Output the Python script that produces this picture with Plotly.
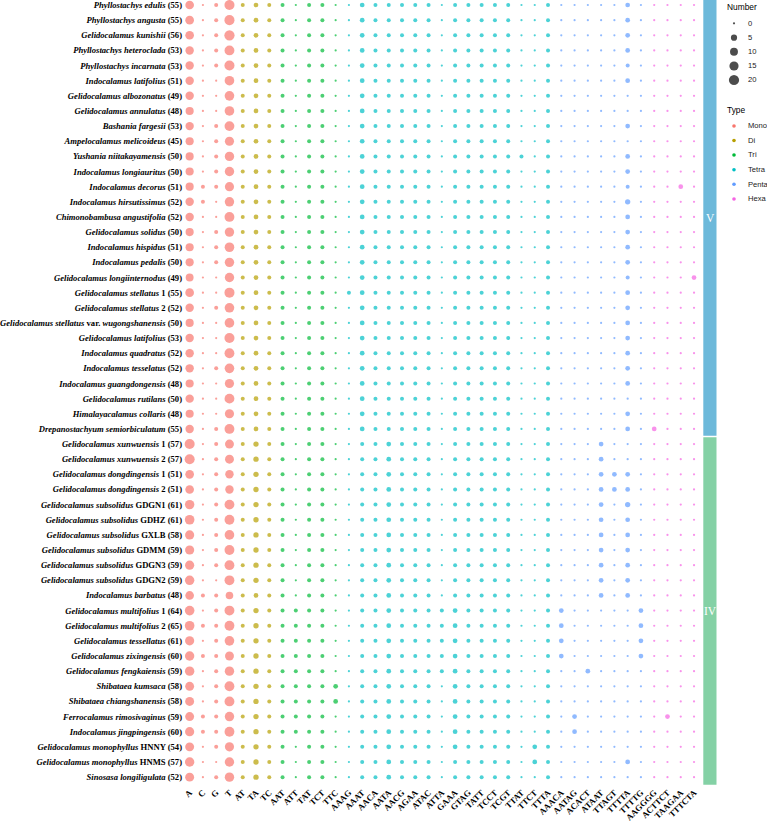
import numpy as np
import plotly.graph_objects as go

# ---------------- data ----------------
species = [
    "Phyllostachys edulis", "Phyllostachys angusta", "Gelidocalamus kunishii",
    "Phyllostachys heteroclada", "Phyllostachys incarnata", "Indocalamus latifolius",
    "Gelidocalamus albozonatus", "Gelidocalamus annulatus", "Bashania fargesii",
    "Ampelocalamus melicoideus", "Yushania niitakayamensis", "Indocalamus longiauritus",
    "Indocalamus decorus", "Indocalamus hirsutissimus", "Chimonobambusa angustifolia",
    "Gelidocalamus solidus", "Indocalamus hispidus", "Indocalamus pedalis",
    "Gelidocalamus longiinternodus", "Gelidocalamus stellatus 1", "Gelidocalamus stellatus 2",
    "Gelidocalamus stellatus var. wugongshanensis", "Gelidocalamus latifolius",
    "Indocalamus quadratus", "Indocalamus tesselatus", "Indocalamus guangdongensis",
    "Gelidocalamus rutilans", "Himalayacalamus collaris", "Drepanostachyum semiorbiculatum",
    "Gelidocalamus xunwuensis 1", "Gelidocalamus xunwuensis 2", "Gelidocalamus dongdingensis 1",
    "Gelidocalamus dongdingensis 2", "Gelidocalamus subsolidus GDGN1", "Gelidocalamus subsolidus GDHZ",
    "Gelidocalamus subsolidus GXLB", "Gelidocalamus subsolidus GDMM", "Gelidocalamus subsolidus GDGN3",
    "Gelidocalamus subsolidus GDGN2", "Indocalamus barbatus", "Gelidocalamus multifolius 1",
    "Gelidocalamus multifolius 2", "Gelidocalamus tessellatus", "Gelidocalamus zixingensis",
    "Gelidocalamus fengkaiensis", "Shibataea kumsaca", "Shibataea chiangshanensis",
    "Ferrocalamus rimosivaginus", "Indocalamus jingpingensis", "Gelidocalamus monophyllus HNNY",
    "Gelidocalamus monophyllus HNMS", "Sinosasa longiligulata",
]
ssr_totals = [55, 55, 56, 53, 53, 51, 49, 48, 53, 45, 50, 50, 51, 52, 52, 50, 51, 50, 49, 55,
              52, 50, 53, 52, 52, 48, 50, 48, 55,
              57, 57, 51, 51, 61, 61, 58, 59, 59, 59, 48, 64, 65, 61, 60, 59, 58, 58, 59, 60,
              54, 57, 52]
clade_names = ["V", "IV"]
clade_sizes = [29, 23]

motifs_mono = ["A", "C", "G", "T"]
motifs_di = ["AT", "TA", "TC"]
motifs_tri = ["AAT", "ATT", "TAT", "TCT", "TTC"]
motifs_tetra = ["AAAG", "AAAT", "AACA", "AATA", "AACG", "AGAA", "ATAC", "ATTA", "GAAA", "GTAG",
                "TATT", "TCCT", "TCGT", "TTAT", "TTCT", "TTTA"]
motifs_penta = ["AAACA", "AATAG", "ACACT", "ATAAT", "TTAGT", "TTTTA", "TTTTG"]
motifs_hexa = ["AAGGGG", "ACTTCT", "TAAGAA", "TTTCTA"]

mono_counts = [
    [13, 0, 1, 19], [13, 0, 1, 19], [13, 0, 1, 20], [12, 0, 1, 18], [12, 0, 1, 19],
    [12, 0, 0, 17], [12, 0, 0, 17], [11, 0, 0, 17], [12, 0, 1, 18], [11, 0, 1, 15],
    [11, 0, 1, 16], [11, 0, 1, 16], [11, 1, 1, 15], [12, 1, 0, 16], [12, 0, 0, 18],
    [11, 0, 1, 16], [11, 0, 1, 17], [11, 0, 1, 16], [10, 0, 0, 16], [13, 0, 0, 19],
    [12, 0, 1, 17], [11, 0, 0, 17], [12, 0, 0, 19], [12, 0, 0, 18], [12, 0, 1, 17],
    [11, 0, 0, 15], [12, 0, 0, 18], [11, 0, 0, 15], [12, 0, 1, 18],
    [19, 0, 1, 14], [19, 0, 1, 14], [13, 0, 1, 12], [13, 0, 1, 12], [16, 0, 1, 18],
    [17, 0, 1, 18], [15, 0, 1, 17], [15, 0, 1, 18], [15, 0, 1, 18], [16, 0, 0, 18],
    [13, 1, 1, 9], [17, 0, 1, 18], [17, 1, 1, 18], [15, 0, 1, 17], [16, 1, 1, 14],
    [16, 0, 1, 16], [14, 0, 1, 18], [14, 0, 1, 18], [14, 1, 1, 16], [15, 1, 1, 18],
    [14, 0, 1, 15], [16, 0, 0, 16], [14, 0, 1, 16],
]
di_counts = [[1, 2, 1]] * 29 + [[1, 3, 1]] * 10 + [[1, 2, 1]] + [[1, 3, 1]] * 12
tri_counts = ([[1, 0, 1, 1, 0]] * 40 + [[1, 1, 1, 1, 0]] * 5 + [[1, 1, 1, 1, 2]] * 2
              + [[1, 1, 1, 1, 0]] * 2 + [[1, 0, 1, 1, 0]] * 3)
tetra_counts = [
    [0, 2, 1, 1, 1, 1, 1, 0, 1, 1, 1, 1, 1, 0, 0, 1], [0, 2, 1, 1, 1, 1, 1, 0, 1, 1, 1, 1, 1, 0, 0, 1],
    [0, 2, 1, 1, 1, 1, 1, 0, 1, 1, 1, 1, 1, 0, 0, 1], [0, 2, 1, 1, 1, 1, 1, 0, 1, 1, 1, 1, 1, 0, 0, 1],
    [0, 2, 1, 1, 1, 1, 1, 0, 1, 1, 1, 1, 1, 0, 0, 1], [0, 2, 1, 1, 1, 1, 1, 0, 1, 1, 1, 1, 1, 0, 0, 1],
    [0, 2, 1, 1, 1, 1, 1, 0, 1, 1, 1, 1, 1, 0, 0, 1], [0, 2, 1, 1, 1, 1, 1, 0, 1, 1, 1, 1, 1, 0, 0, 1],
    [0, 2, 1, 1, 1, 1, 1, 0, 1, 1, 1, 1, 1, 0, 0, 1], [0, 2, 1, 1, 1, 1, 1, 0, 1, 1, 1, 1, 1, 0, 0, 1],
    [0, 2, 1, 1, 1, 1, 1, 0, 1, 1, 1, 1, 1, 1, 0, 1], [0, 2, 1, 1, 1, 1, 1, 0, 1, 1, 1, 1, 1, 0, 0, 1],
    [0, 2, 1, 1, 1, 1, 1, 0, 1, 1, 1, 1, 1, 0, 0, 1], [0, 2, 1, 1, 1, 1, 1, 0, 1, 1, 1, 1, 1, 0, 0, 1],
    [0, 2, 1, 1, 1, 1, 1, 0, 1, 1, 1, 1, 1, 0, 0, 1], [0, 2, 1, 1, 1, 1, 1, 0, 1, 1, 1, 1, 1, 0, 0, 1],
    [0, 2, 1, 1, 1, 1, 1, 0, 1, 1, 1, 1, 1, 0, 0, 1], [0, 2, 1, 1, 1, 1, 1, 0, 1, 1, 1, 1, 1, 0, 0, 1],
    [0, 2, 1, 1, 1, 1, 1, 0, 1, 1, 1, 1, 1, 0, 0, 1], [1, 2, 1, 1, 1, 1, 1, 0, 1, 1, 1, 1, 1, 0, 0, 1],
    [0, 2, 1, 1, 1, 1, 1, 0, 1, 1, 1, 1, 1, 0, 0, 1], [0, 2, 1, 1, 1, 1, 1, 0, 1, 1, 1, 1, 1, 0, 0, 1],
    [0, 2, 1, 1, 1, 1, 1, 0, 1, 1, 1, 1, 1, 0, 0, 1], [0, 2, 1, 1, 1, 1, 1, 0, 1, 1, 1, 1, 1, 0, 0, 1],
    [0, 2, 1, 1, 1, 1, 1, 0, 1, 1, 1, 1, 1, 0, 0, 1], [0, 2, 1, 1, 1, 1, 1, 0, 1, 1, 1, 1, 1, 0, 0, 1],
    [0, 2, 1, 1, 1, 1, 1, 0, 1, 1, 1, 1, 1, 0, 0, 1], [0, 2, 1, 1, 1, 1, 1, 0, 1, 1, 1, 1, 1, 0, 0, 1],
    [0, 2, 1, 1, 1, 1, 1, 0, 1, 1, 1, 1, 1, 0, 0, 1],
    [0, 1, 1, 2, 1, 1, 1, 0, 1, 1, 1, 1, 1, 0, 0, 1], [0, 1, 1, 2, 1, 1, 1, 0, 1, 1, 1, 1, 1, 0, 0, 1],
    [0, 1, 1, 2, 1, 1, 1, 0, 1, 1, 1, 1, 1, 0, 0, 1], [0, 1, 1, 2, 1, 1, 1, 0, 1, 1, 1, 1, 1, 0, 0, 1],
    [0, 1, 1, 2, 1, 1, 1, 0, 1, 1, 1, 1, 1, 0, 0, 1], [0, 1, 1, 2, 1, 1, 1, 0, 1, 1, 1, 1, 1, 0, 0, 1],
    [0, 1, 1, 2, 1, 1, 1, 0, 1, 1, 1, 1, 1, 0, 0, 1], [0, 1, 1, 2, 1, 1, 1, 0, 1, 1, 1, 1, 1, 0, 0, 1],
    [0, 1, 1, 2, 1, 1, 1, 0, 1, 1, 1, 1, 1, 0, 0, 1], [0, 1, 1, 2, 1, 1, 1, 0, 1, 1, 1, 1, 1, 0, 0, 1],
    [0, 1, 1, 2, 1, 1, 1, 0, 1, 1, 1, 1, 1, 0, 0, 1],
    [0, 1, 1, 2, 1, 1, 1, 1, 2, 1, 1, 1, 1, 0, 0, 1], [0, 1, 1, 2, 1, 1, 1, 1, 2, 1, 1, 1, 1, 0, 0, 1],
    [0, 1, 1, 2, 1, 1, 1, 1, 2, 1, 1, 1, 1, 0, 0, 1], [0, 1, 1, 2, 1, 1, 1, 1, 2, 1, 1, 1, 1, 0, 0, 1],
    [0, 1, 1, 2, 1, 1, 1, 1, 2, 1, 1, 1, 1, 0, 0, 1],
    [0, 1, 1, 2, 1, 1, 1, 0, 2, 1, 1, 1, 1, 0, 0, 1], [0, 1, 1, 2, 1, 1, 1, 0, 2, 1, 1, 1, 1, 0, 0, 1],
    [0, 1, 1, 2, 1, 1, 1, 0, 2, 1, 1, 1, 1, 0, 0, 1], [0, 1, 1, 2, 1, 1, 1, 0, 2, 1, 1, 1, 1, 0, 0, 1],
    [0, 1, 1, 2, 1, 1, 1, 0, 2, 1, 1, 1, 1, 0, 2, 1], [0, 1, 1, 2, 1, 1, 1, 0, 1, 1, 1, 1, 1, 0, 2, 1],
    [0, 1, 1, 2, 1, 1, 1, 0, 1, 1, 1, 1, 1, 0, 0, 1],
]
penta_counts = [
    [0, 0, 0, 0, 0, 2, 0], [0, 0, 0, 0, 0, 2, 0], [0, 0, 0, 0, 0, 2, 0], [0, 0, 0, 0, 0, 2, 0],
    [0, 0, 0, 0, 0, 1, 0], [0, 0, 0, 0, 0, 2, 0], [0, 0, 0, 0, 0, 0, 0], [0, 0, 0, 0, 0, 0, 0],
    [0, 0, 0, 0, 0, 2, 0], [0, 0, 0, 0, 0, 0, 0], [0, 0, 0, 0, 0, 2, 0], [0, 0, 0, 0, 0, 2, 0],
    [0, 0, 0, 0, 0, 1, 0], [0, 0, 0, 0, 0, 3, 0], [0, 0, 0, 0, 0, 2, 0], [0, 0, 0, 0, 0, 2, 0],
    [0, 0, 0, 0, 0, 2, 0], [0, 0, 0, 0, 0, 2, 0], [0, 0, 0, 0, 0, 1, 0], [0, 0, 0, 0, 0, 2, 0],
    [0, 0, 0, 0, 0, 2, 0], [0, 0, 0, 0, 0, 2, 0], [0, 0, 0, 0, 0, 2, 0], [0, 0, 0, 0, 0, 2, 0],
    [0, 0, 0, 0, 0, 2, 0], [0, 0, 0, 0, 0, 2, 0], [0, 0, 0, 0, 0, 0, 0], [0, 0, 0, 0, 0, 2, 0],
    [0, 0, 0, 0, 0, 2, 0],
    [0, 0, 0, 2, 0, 0, 0], [0, 0, 0, 2, 0, 0, 0], [0, 0, 0, 2, 2, 2, 0], [0, 0, 0, 2, 2, 2, 0],
    [0, 0, 0, 2, 0, 3, 0], [0, 0, 0, 2, 0, 2, 0], [0, 0, 0, 2, 0, 2, 0], [0, 0, 0, 2, 0, 2, 0],
    [0, 0, 0, 2, 0, 2, 0], [0, 0, 0, 2, 0, 2, 0], [0, 0, 0, 2, 0, 2, 0],
    [2, 0, 0, 0, 0, 0, 2], [2, 0, 0, 0, 0, 0, 2], [2, 0, 0, 0, 0, 0, 2], [2, 0, 0, 0, 0, 0, 2],
    [0, 0, 2, 0, 0, 0, 0], [0, 0, 0, 0, 0, 0, 0], [0, 0, 0, 0, 0, 0, 0], [0, 2, 0, 0, 0, 0, 0],
    [0, 2, 0, 0, 0, 0, 0], [0, 0, 0, 0, 0, 0, 0], [0, 0, 0, 0, 0, 2, 0], [0, 0, 0, 0, 0, 0, 0],
]
hexa_counts = [[0, 0, 0, 0] for _ in range(52)]
hexa_counts[12] = [0, 0, 2, 0]   # Indocalamus decorus
hexa_counts[18] = [0, 0, 0, 2]   # Gelidocalamus longiinternodus
hexa_counts[28] = [2, 0, 0, 0]   # Drepanostachyum semiorbiculatum
hexa_counts[47] = [0, 2, 0, 0]   # Ferrocalamus rimosivaginus

type_names = ["Mono", "Di", "Tri", "Tetra", "Penta", "Hexa"]
type_colors = ["#F8766D", "#B79F00", "#00BA38", "#00BFC4", "#619CFF", "#F564E3"]
type_motifs = [motifs_mono, motifs_di, motifs_tri, motifs_tetra, motifs_penta, motifs_hexa]
type_counts = [mono_counts, di_counts, tri_counts, tetra_counts, penta_counts, hexa_counts]
legend_numbers = [0, 5, 10, 15, 20]
clade_colors = ["#6DB9DA", "#84D1A5"]

# ---------------- helpers ----------------
def dot_size(v):
    return 2.2 + 1.8 * np.sqrt(np.asarray(v, dtype=float))

def fmt_label(name, total):
    parts = []
    for w in name.split(" "):
        if w.isalpha() and w != "var." and not (w.isupper() and len(w) > 1):
            parts.append("<i>" + w + "</i>")
        else:
            parts.append(w)
    return "<b>" + " ".join(parts) + " (" + str(total) + ")</b>"

W, H = 767, 824
B = 39
PH = H - B
X0, X1 = 183, 700
Y_TOP, Y_BOT = -0.33, 51.52
LEG_X0, LEG_H = 718, 215

def px_x(p):
    return p / W

def px_y(p):
    return 1 - p / PH

def row_px(r):
    return (r - Y_TOP) / (Y_BOT - Y_TOP) * PH

all_motifs = [m for ms in type_motifs for m in ms]
y_labels = [fmt_label(s, t) for s, t in zip(species, ssr_totals)]
n_rows = len(species)

fig = go.Figure()
col0 = 0
for tname, color, motifs, counts in zip(type_names, type_colors, type_motifs, type_counts):
    arr = np.array(counts)
    xs, ys, vs = [], [], []
    for r in range(n_rows):
        for j in range(len(motifs)):
            xs.append(col0 + j)
            ys.append(r)
            vs.append(arr[r, j])
    fig.add_trace(go.Scatter(
        x=xs, y=ys, mode="markers", showlegend=False, name=tname, cliponaxis=False,
        marker=dict(color=color, size=dot_size(vs), line=dict(width=0)),
        xaxis="x", yaxis="y",
    ))
    col0 += len(motifs)

# legend keys in a small pixel-scaled subplot to the right
num_y = [23.3, 37.7, 51.7, 66.0, 80.0]
fig.add_trace(go.Scatter(
    x=[734] * len(legend_numbers), y=num_y, mode="markers", showlegend=False, cliponaxis=False,
    marker=dict(color="black", size=dot_size(legend_numbers), line=dict(width=0)),
    xaxis="x2", yaxis="y2", hoverinfo="skip"))
type_y = [126.0, 140.5, 155.0, 169.8, 184.3, 199.0]
fig.add_trace(go.Scatter(
    x=[734] * len(type_names), y=type_y, mode="markers", showlegend=False, cliponaxis=False,
    marker=dict(color=type_colors, size=3.6, line=dict(width=0)),
    xaxis="x2", yaxis="y2", hoverinfo="skip"))

annotations = []
legfont = dict(family="Liberation Sans, Arial", size=7.6, color="#1a1a1a")
titlefont = dict(family="Liberation Sans, Arial", size=8.4, color="black")
annotations.append(dict(x=px_x(725), y=px_y(7), xref="paper", yref="paper", text="Number",
                        showarrow=False, xanchor="left", yanchor="middle", font=titlefont))
for n, yy in zip(legend_numbers, num_y):
    annotations.append(dict(x=px_x(746), y=px_y(yy), xref="paper", yref="paper", text=str(n),
                            showarrow=False, xanchor="left", yanchor="middle", font=legfont))
annotations.append(dict(x=px_x(725), y=px_y(110), xref="paper", yref="paper", text="Type",
                        showarrow=False, xanchor="left", yanchor="middle", font=titlefont))
for n, yy in zip(type_names, type_y):
    annotations.append(dict(x=px_x(746), y=px_y(yy), xref="paper", yref="paper", text=n,
                            showarrow=False, xanchor="left", yanchor="middle", font=legfont))

# clade strips
shapes = []
start = 0
for cname, csize, ccol in zip(clade_names, clade_sizes, clade_colors):
    top = max(row_px(start - 0.5) + (0.8 if start > 0 else 0), 0)
    bot = row_px(start + csize - 0.5) - (0.8 if start + csize < n_rows else 0)
    shapes.append(dict(type="rect", xref="paper", yref="paper", x0=px_x(703.3), x1=px_x(716.5),
                       y0=px_y(bot), y1=px_y(top), fillcolor=ccol, line=dict(width=0), layer="below"))
    annotations.append(dict(x=px_x(710), y=px_y((top + bot) / 2), xref="paper", yref="paper",
                            text=cname, showarrow=False, xanchor="center", yanchor="middle",
                            font=dict(family="Liberation Serif", size=11.5, color="white")))
    start += csize

fig.update_layout(
    width=W, height=H, margin=dict(l=0, r=0, t=0, b=B, pad=0),
    paper_bgcolor="white", plot_bgcolor="white", showlegend=False,
    xaxis=dict(domain=[X0 / W, X1 / W], range=[-0.5, 38.45], tickmode="array",
               tickvals=list(range(len(all_motifs))), ticktext=["<b>" + m + "</b>" for m in all_motifs],
               tickangle=-45, showgrid=False, zeroline=False, showline=False, ticks="",
               tickfont=dict(family="Liberation Serif", size=8.6, color="black"), automargin=False,
               anchor="y"),
    yaxis=dict(domain=[0, 1], range=[Y_BOT, Y_TOP], tickmode="array",
               tickvals=list(range(n_rows)), ticktext=y_labels, showgrid=False, zeroline=False,
               showline=False, ticks="", tickfont=dict(family="Liberation Serif", size=8.6, color="black"),
               automargin=False, anchor="x"),
    xaxis2=dict(domain=[LEG_X0 / W, 1], range=[LEG_X0, W], visible=False, anchor="y2"),
    yaxis2=dict(domain=[1 - LEG_H / PH, 1], range=[LEG_H, 0], visible=False, anchor="x2"),
    shapes=shapes, annotations=annotations,
)

fig.write_html("out.html", config={"displayModeBar": False},
               post_script="document.body.style.margin='0px';")
